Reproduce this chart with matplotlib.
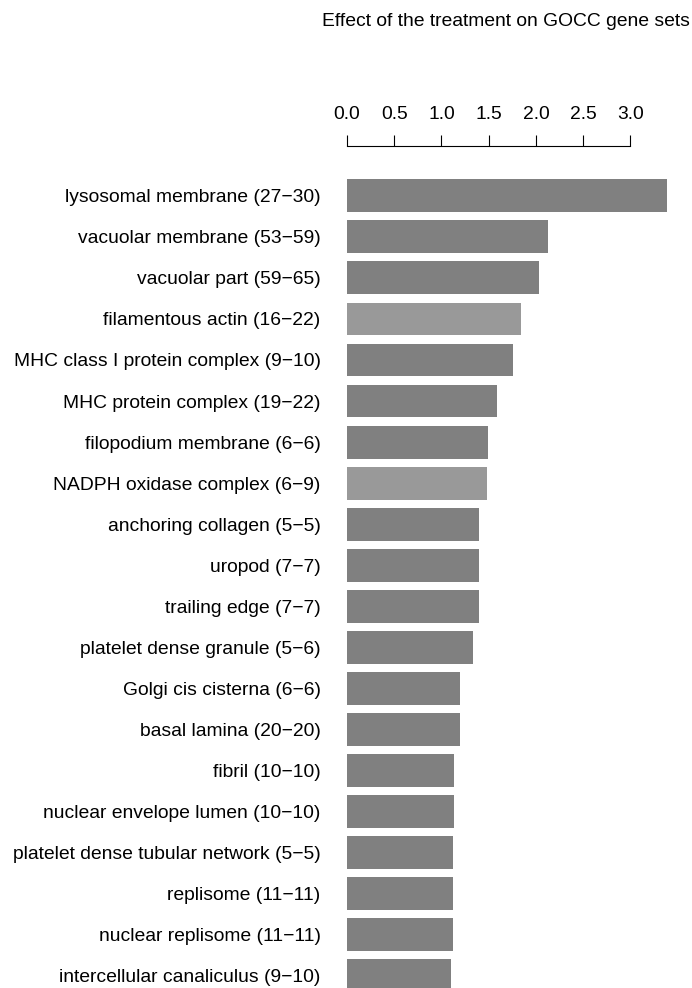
import matplotlib
matplotlib.use("Agg")
import matplotlib.pyplot as plt

plt.rcParams['font.family'] = ['Liberation Sans', 'DejaVu Sans']

labels = [
    "lysosomal membrane (27\u221230)",
    "vacuolar membrane (53\u221259)",
    "vacuolar part (59\u221265)",
    "filamentous actin (16\u221222)",
    "MHC class I protein complex (9\u221210)",
    "MHC protein complex (19\u221222)",
    "filopodium membrane (6\u22126)",
    "NADPH oxidase complex (6\u22129)",
    "anchoring collagen (5\u22125)",
    "uropod (7\u22127)",
    "trailing edge (7\u22127)",
    "platelet dense granule (5\u22126)",
    "Golgi cis cisterna (6\u22126)",
    "basal lamina (20\u221220)",
    "fibril (10\u221210)",
    "nuclear envelope lumen (10\u221210)",
    "platelet dense tubular network (5\u22125)",
    "replisome (11\u221211)",
    "nuclear replisome (11\u221211)",
    "intercellular canaliculus (9\u221210)",
]
values = [3.383, 2.124, 2.028, 1.838, 1.757, 1.591, 1.496, 1.481, 1.40, 1.40,
          1.40, 1.337, 1.199, 1.196, 1.129, 1.129, 1.125, 1.125, 1.125, 1.10]
light = [False, False, False, True, False, False, False, True, False, False,
         False, False, False, False, False, False, False, False, False, False]
xticks = [0.0, 0.5, 1.0, 1.5, 2.0, 2.5, 3.0]
title = "Effect of the treatment on GOCC gene sets"

W, H = 692, 988
fig = plt.figure(figsize=(W / 100, H / 100), dpi=100)
FS = 13.9

x0_px = 347.0
px_per_unit = 94.5
xmax = 3.5
top_px = 146.0
ax = fig.add_axes([x0_px / W, 0, xmax * px_per_unit / W, 1 - top_px / H])

colors = ['#999999' if l else '#808080' for l in light]
ypos = list(range(len(values)))
ax.barh(ypos, values, height=0.80, color=colors, edgecolor='none')

pitch = 41.05
c0 = 195.8
ax.set_xlim(0, xmax)
ax.set_ylim((H - c0) / pitch, -(c0 - top_px) / pitch)

for s in ['left', 'right', 'bottom']:
    ax.spines[s].set_visible(False)
ax.spines['top'].set_bounds(0, 3.0)
ax.spines['top'].set_linewidth(0.8)

ax.xaxis.tick_top()
ax.set_xticks(xticks)
ax.set_xticklabels([f"{t:.1f}" for t in xticks], fontsize=FS)
ax.tick_params(axis='x', direction='out', length=8, width=0.8, pad=8.3)

ax.set_yticks(ypos)
ax.set_yticklabels(labels, fontsize=FS)
ax.tick_params(axis='y', length=0, pad=19)

fig.text(506 / W, 1 - 22 / H, title, ha='center', va='center', fontsize=FS)

fig.savefig("out.png", dpi=100)
